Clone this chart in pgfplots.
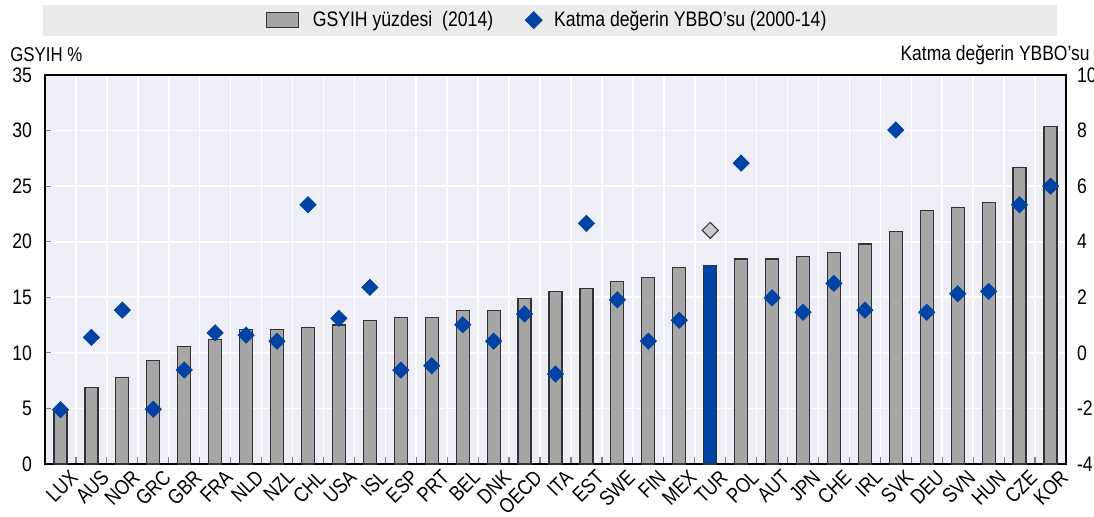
\documentclass[border=0pt]{standalone}
\usepackage{pgfplots}
\pgfplotsset{compat=1.18}
\usepackage{pgfplotstable}
\usepackage{fontspec}
\setmainfont{Liberation Sans}[FakeStretch=0.84]
\definecolor{plotbg}{HTML}{EEEEF7}
\definecolor{legbg}{HTML}{EBEBEB}
\definecolor{bargray}{HTML}{A6A6A6}
\definecolor{baredge}{HTML}{333333}
\definecolor{oecdblue}{HTML}{0043A4}
\definecolor{turgray}{HTML}{C8C8C8}

\pgfplotstableread{
x bar
0 4.9
1 6.9
2 7.8
3 9.3
4 10.6
5 11.2
6 12.1
7 12.1
8 12.3
9 12.5
10 12.9
11 13.2
12 13.2
13 13.8
14 13.8
15 14.9
16 15.5
17 15.8
18 16.4
19 16.8
20 17.7
22 18.45
23 18.45
24 18.65
25 19.0
26 19.8
27 20.9
28 22.8
29 23.1
30 23.5
31 26.7
32 30.4
}\bars

\pgfplotstableread{
x dia
0 -2.05
1 0.56
2 1.54
3 -2.03
4 -0.62
5 0.72
6 0.64
7 0.42
8 5.33
9 1.24
10 2.36
11 -0.62
12 -0.46
13 1.01
14 0.42
15 1.40
16 -0.76
17 4.66
18 1.91
19 0.42
20 1.17
22 6.83
23 1.98
24 1.46
25 2.50
26 1.54
27 8.02
28 1.46
29 2.13
30 2.21
31 5.33
32 6.0
}\dias

\begin{document}
\fontsize{10}{12}\selectfont
\begin{tikzpicture}[x=0.5pt,y=0.5pt]
% legend background band
\fill[legbg] (-2,459) rectangle (1012,428);
\begin{axis}[
  at={(0,0)}, anchor=south west,
  scale only axis, width=510.5pt, height=194.5pt,
  xmin=-0.5, xmax=32.5, ymin=0, ymax=35,
  ytick={0,5,...,35},
  xtick={0,...,32},
  xticklabels={LUX,AUS,NOR,GRC,GBR,FRA,NLD,NZL,CHL,USA,ISL,ESP,PRT,BEL,DNK,OECD,ITA,EST,SWE,FIN,MEX,TUR,POL,AUT,JPN,CHE,IRL,SVK,DEU,SVN,HUN,CZE,KOR},
  minor xtick={0.5,1.5,...,31.5},
  xminorgrids=true, ymajorgrids=true, xmajorgrids=false,
  grid style={white, line width=0.8pt},
  minor grid style={white, line width=0.8pt},
  axis background/.style={fill=plotbg},
  axis line style={black, line width=0.9pt},
  tick align=inside, tick pos=left,
  major tick length=3pt, minor tick length=3.5pt,
  major x tick style={draw=none},
  minor x tick style={gray, line width=0.6pt},
  major y tick style={gray, line width=0.6pt},
  /pgf/number format/assume math mode=true,
  yticklabel style={font=\fontsize{10.5}{12}\selectfont, xshift=-3pt},
  xticklabel style={rotate=45, anchor=north east, inner sep=1pt, xshift=2.5pt, yshift=-3.5pt, font=\fontsize{10.5}{12}\selectfont},
  legend style={at={(0.4927,1.141)}, anchor=center, draw=none, fill=none,
    legend columns=2, /tikz/every even column/.append style={column sep=14pt},
    font=\fontsize{10.5}{12}\selectfont},
  legend image code/.code={\draw[#1] (-2pt,-3.75pt) rectangle (14pt,3.75pt);},
  clip=false,
]
\addplot[ybar, bar width=6.5pt, bar shift=0pt, fill=bargray, draw=baredge, line width=0.6pt] table[x=x,y=bar]{\bars};
\addlegendentry{\hspace{5pt}GSYIH yüzdesi\ \ (2014)}
\addplot[ybar, bar width=6.5pt, bar shift=0pt, fill=oecdblue, draw=baredge, line width=0.6pt, forget plot] coordinates {(21,17.85)};
\addlegendimage{legend image code/.code={\draw[only marks, mark=square*, mark size=3pt, mark options={rotate=45, fill=oecdblue, draw=oecdblue}] plot coordinates {(6pt,0pt)};}}
\addlegendentry{\hspace{4pt}Katma değerin YBBO’su (2000-14)}
\end{axis}
\begin{axis}[
  at={(0,0)}, anchor=south west,
  scale only axis, width=510.5pt, height=194.5pt,
  xmin=-0.5, xmax=32.5, ymin=-4, ymax=10,
  ytick={-4,-2,...,10},
  hide x axis,
  axis y line*=right,
  y axis line style={draw=none},
  major tick length=0pt,
  /pgf/number format/assume math mode=true,
  yticklabel style={font=\fontsize{10.5}{12}\selectfont, xshift=2pt},
  clip=false,
]
\addplot[only marks, mark=square*, mark size=2.85pt, mark options={rotate=45, fill=oecdblue, draw=oecdblue}] table[x=x,y=dia]{\dias};
\addplot[only marks, mark=square*, mark size=2.85pt, mark options={rotate=45, fill=turgray, draw=baredge, line width=0.5pt}] coordinates {(21,4.41)};
\end{axis}
\node[anchor=west, inner sep=0pt] at (-35,409) {GSYIH \%};
\node[anchor=east, inner sep=0pt, font=\fontsize{10.4}{12}\selectfont] at (1045,409) {Katma değerin YBBO’su};
\pgfresetboundingbox
\path (-45,-52) rectangle (1049,464);
\end{tikzpicture}
\end{document}
